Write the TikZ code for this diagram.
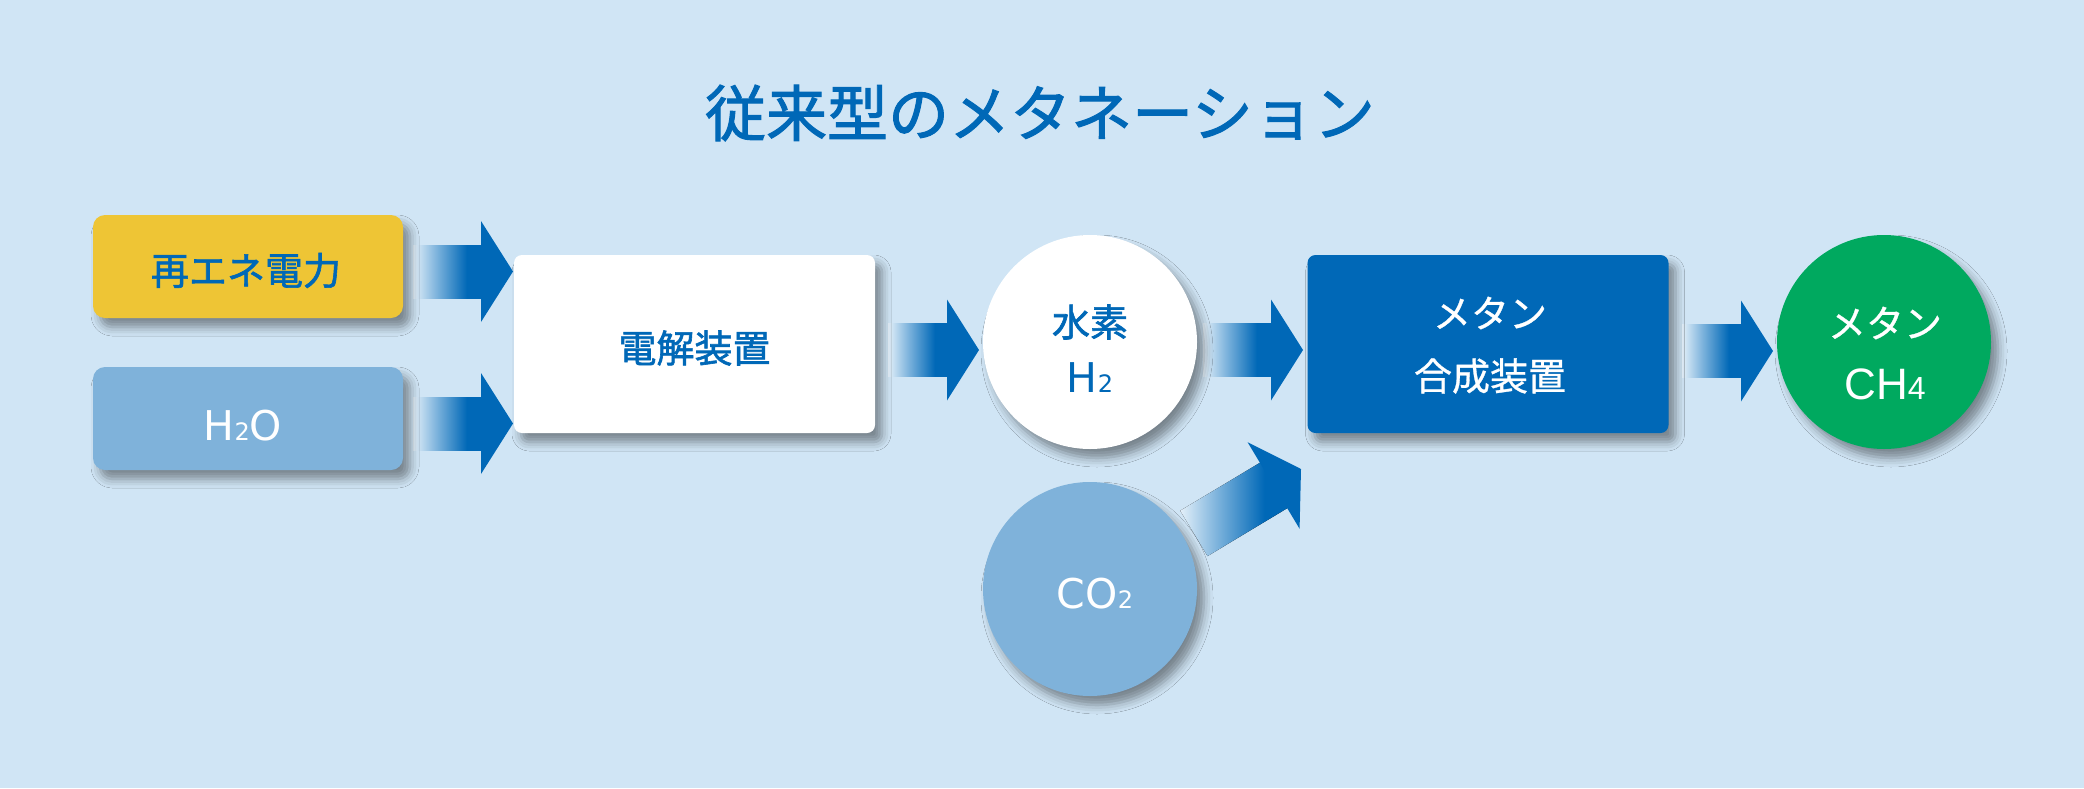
\documentclass[tikz,border=0pt]{standalone}
\usepackage{fontspec}
\newfontfamily\jpb[FakeBold=1.6]{Noto Sans CJK JP}
\newfontfamily\jpr[FakeBold=0.8]{Noto Sans CJK JP}
\newfontfamily\lat{DejaVu Sans}
\newfontfamily\latn{Liberation Sans}
\usetikzlibrary{calc,shadows.blur}
\definecolor{bgc}{HTML}{D0E5F5}
\definecolor{ablue}{HTML}{0068B7}
\definecolor{yel}{HTML}{EEC535}
\definecolor{lblue}{HTML}{7FB2DA}
\definecolor{grn}{HTML}{00A95F}
\colorlet{shA}{bgc!60!white}
\colorlet{shB}{ablue!40!bgc}
\pgfdeclarehorizontalshading{arrowshade}{100bp}{color(0bp)=(shA); color(25bp)=(shA); color(42bp)=(shB); color(64bp)=(ablue); color(100bp)=(ablue)}
\newcommand\blockarrow[3]{%
  \begin{scope}[shift={#1}, rotate=#3]
    \fill[shading=arrowshade] (-#2,-26.5) rectangle (-31,26.5);
    \fill[ablue] (-32,-50.5) -- (0,0) -- (-32,50.5) -- cycle;
  \end{scope}}
\tikzset{
  shad/.style={blur shadow={shadow xshift=3.5pt, shadow yshift=-4.5pt, shadow blur radius=4.5pt, shadow opacity=42}},
  sbox/.style={shad, inner sep=0pt, minimum width=#1},
  smallbox/.style={sbox=155pt, minimum height=51.5pt, rounded corners=6pt},
  bigbox/.style={sbox=180.5pt, minimum height=89pt, rounded corners=4pt},
  disc/.style={shad, circle, inner sep=0pt, minimum size=107pt},
  jtxt/.style={inner sep=0pt, font=\jpb\fontsize{19pt}{22pt}\selectfont, text=ablue},
  wtxt/.style={inner sep=0pt, font=\jpr\fontsize{19pt}{22pt}\selectfont, text=white},
  ltxt/.style={inner sep=0pt, font=\lat\fontsize{20.5pt}{24pt}\selectfont},
}
\newcommand\sub[1]{{\fontsize{12pt}{14pt}\selectfont #1}}
\begin{document}
\begin{tikzpicture}[x=0.5pt,y=-0.5pt]
\fill[bgc] (0,0) rectangle (2084,788);
\useasboundingbox (0,0) rectangle (2084,788);

% title
\node[inner sep=0pt, text=ablue, font=\jpb\fontsize{30.5pt}{34pt}\selectfont] (title) at (1040,113) {従来型のメタネーション};

% node centres
\path (248,266.5) coordinate (reC) (248,418.5) coordinate (h2oC) (694.5,344) coordinate (elC)
      (1090,342) coordinate (h2C) (1090,589) coordinate (co2C) (1488,344) coordinate (synC) (1884,342) coordinate (ch4C);

% arrows (drawn under the nodes)
\path ($(reC)+(265,5)$) coordinate (t1) ($(h2oC)+(265,5)$) coordinate (t2)
      ($(h2C)+(-111,8)$) coordinate (t3) ($(h2C)+(213,8)$) coordinate (t4)
      ($(ch4C)+(-111,9)$) coordinate (t5) ($(synC)+(-187,125)$) coordinate (t6);
\blockarrow{(t1)}{100}{0}
\blockarrow{(t2)}{100}{0}
\blockarrow{(t3)}{91}{0}
\blockarrow{(t4)}{100}{0}
\blockarrow{(t5)}{91}{0}
\blockarrow{(t6)}{125}{31}

% nodes
\node[smallbox, fill=yel] (re) at (reC) {};
\node[smallbox, fill=lblue] (h2o) at (h2oC) {};
\node[bigbox, fill=white] (elec) at (elC) {};
\node[disc, fill=white] (h2) at (h2C) {};
\node[disc, fill=lblue] (co2) at (co2C) {};
\node[bigbox, fill=ablue] (syn) at (synC) {};
\node[disc, fill=grn] (ch4) at (ch4C) {};

% texts
\node[jtxt] (reT) at ($(re)+(-2,4)$) {再エネ電力};
\node[ltxt, text=white] (h2oT) at ($(h2o)+(-5,7.5)$) {H\sub{2}O};
\node[jtxt] (elT) at ($(elec)+(0,4)$) {電解装置};
\node[jtxt] (h2T1) at ($(h2)+(0,-20)$) {水素};
\node[ltxt, text=ablue] (h2T2) at ($(h2)+(0,35.5)$) {H\sub{2}};
\node[ltxt, text=white] (co2T) at ($(co2)+(5,5)$) {CO\sub{2}};
\node[wtxt] (synT1) at ($(syn)+(2,-31)$) {メタン};
\node[wtxt] (synT2) at ($(syn)+(2,32)$) {合成装置};
\node[wtxt] (ch4T1) at ($(ch4)+(1,-19)$) {メタン};
\node[inner sep=0pt, text=white, font=\latn\fontsize{22pt}{26pt}\selectfont] (ch4T2) at ($(ch4)+(1,42)$) {CH{\fontsize{16pt}{18pt}\selectfont 4}};
\end{tikzpicture}
\end{document}
